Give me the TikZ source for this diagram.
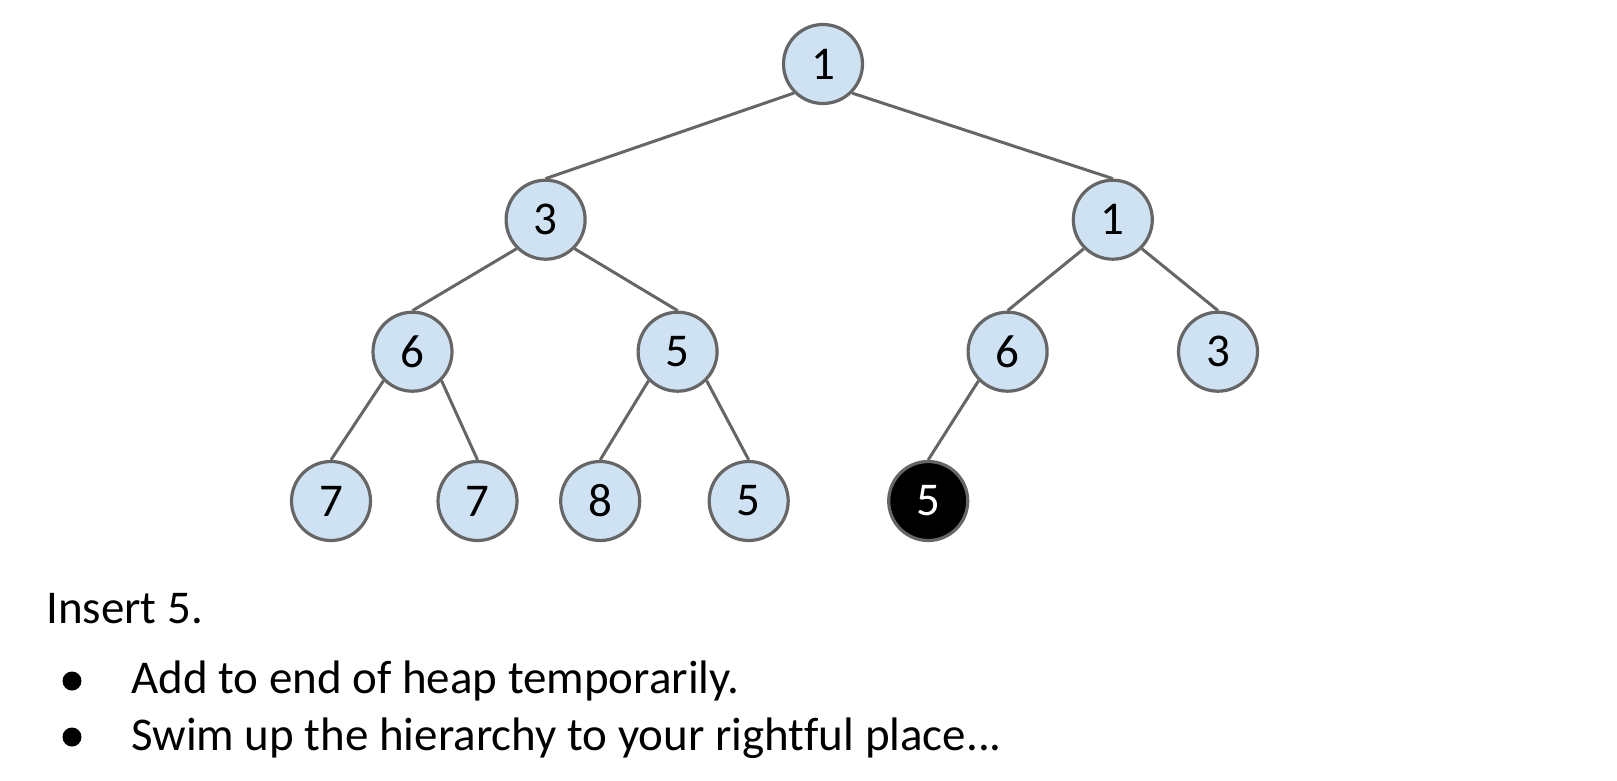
\documentclass[tikz,border=0pt]{standalone}
\usepackage{fontspec}
\setmainfont{Carlito}[Ligatures=NoCommon]
\definecolor{nodefill}{HTML}{CFE2F3}
\definecolor{edgegray}{HTML}{666666}
\tikzset{
  heap/.style={circle, draw=edgegray, fill=nodefill, line width=3.2pt, minimum size=79pt, inner sep=0pt, font=\fontsize{47}{54}\selectfont},
  newnode/.style={heap, fill=black, text=white},
  edge/.style={draw=edgegray, line width=3pt},
  body/.style={anchor=base west, inner sep=0pt, font=\fontsize{47}{57}\selectfont},
  bullet/.style={circle, fill=black, minimum size=19pt, inner sep=0pt}
}
\begin{document}
\begin{tikzpicture}[x=1pt, y=-1pt]
\useasboundingbox (0,0) rectangle (1617,781);
\node[heap] (r) at (823,64) {1};
\node[heap] (a) at (545.6,219.7) {3};
\node[heap] (b) at (1112.8,219.7) {1};
\node[heap] (c) at (412.5,351.7) {6};
\node[heap] (d) at (677.6,351.7) {5};
\node[heap] (e) at (1007.6,351.7) {6};
\node[heap] (f) at (1218,351.7) {3};
\node[heap] (g) at (331,501) {7};
\node[heap] (h) at (477.5,501) {7};
\node[heap] (i) at (600.2,501) {8};
\node[heap] (j) at (748.7,501) {5};
\node[newnode] (k) at (928.2,501) {5};
\draw[edge] (r.225) -- (a.north);
\draw[edge] (r.-45) -- (b.north);
\draw[edge] (a.225) -- (c.north);
\draw[edge] (a.-45) -- (d.north);
\draw[edge] (b.225) -- (e.north);
\draw[edge] (b.-45) -- (f.north);
\draw[edge] (c.225) -- (g.north);
\draw[edge] (c.-45) -- (h.north);
\draw[edge] (d.225) -- (i.north);
\draw[edge] (d.-45) -- (j.north);
\draw[edge] (e.225) -- (k.north);
\node[body] (t0) at (46,623) {Insert 5.};
\node[bullet] (b1) at (72,681) {};
\node[body] (t1) at (131,693) {Add to end of heap temporarily.};
\node[bullet] (b2) at (72,737) {};
\node[body] (t2) at (131,750) {Swim up the hierarchy to your rightful place...};
\end{tikzpicture}
\end{document}
